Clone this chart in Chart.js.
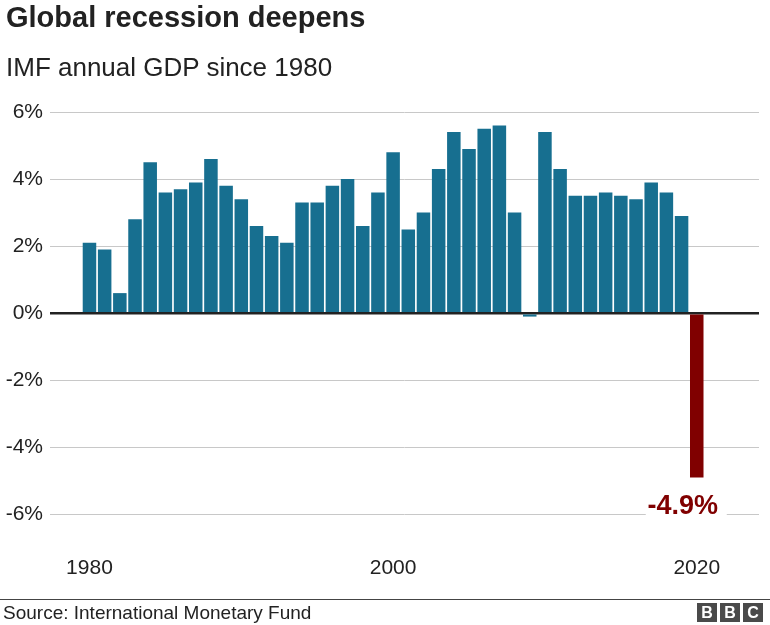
<!DOCTYPE html>
<html>
<head>
<meta charset="utf-8">
<script src="https://cdn.jsdelivr.net/npm/chart.js@4"></script>
<style>
  html, body { margin: 0; padding: 0; background: #fff; }
  body { width: 770px; height: 625px; position: relative; overflow: hidden; font-family: "Liberation Sans", Arial, Helvetica, sans-serif; color: #222; }
  #wrap { position: absolute; left: 0; top: 0; width: 770px; height: 625px; }
  .title { position: absolute; left: 6px; top: 3px; font-size: 29px; line-height: 29px; font-weight: bold; color: #222; }
  .sub { position: absolute; left: 6px; top: 54px; font-size: 26px; line-height: 26px; color: #222; }
  .rule { position: absolute; left: 0; top: 599px; width: 770px; height: 1px; background: #444; }
  .source { position: absolute; left: 3px; top: 603px; font-size: 19px; line-height: 19px; color: #222; }
  .bbc { position: absolute; left: 697px; top: 603px; display: flex; gap: 3px; }
  .bbc span { display: block; width: 20px; height: 19px; background: #4a4a4a; color: #fff; font-weight: bold; font-size: 16px; line-height: 19px; text-align: center; }
</style>
</head>
<body>
<div id="wrap"><canvas id="gdp" width="770" height="625"></canvas></div>
<div class="title">Global recession deepens</div>
<div class="sub">IMF annual GDP since 1980</div>
<div class="rule"></div>
<div class="source">Source: International Monetary Fund</div>
<div class="bbc"><span>B</span><span>B</span><span>C</span></div>
<script>
// IMF world GDP growth, % per year
const years = [1980,1981,1982,1983,1984,1985,1986,1987,1988,1989,
               1990,1991,1992,1993,1994,1995,1996,1997,1998,1999,
               2000,2001,2002,2003,2004,2005,2006,2007,2008,2009,
               2010,2011,2012,2013,2014,2015,2016,2017,2018,2019,2020];
const growth = [2.1,1.9,0.6,2.8,4.5,3.6,3.7,3.9,4.6,3.8,
                3.4,2.6,2.3,2.1,3.3,3.3,3.8,4.0,2.6,3.6,
                4.8,2.5,3.0,4.3,5.4,4.9,5.5,5.6,3.0,-0.1,
                5.4,4.3,3.5,3.5,3.6,3.5,3.4,3.9,3.6,2.9,-4.9];
const yearTicks = [1980, 2000, 2020];
const pctTicks = [-6, -4, -2, 0, 2, 4, 6];
const highlightYear = 2020;
const highlightLabel = '-4.9%';

const BLUE = '#176f90';
const RED = '#800000';

const barColors = years.map(y => y === highlightYear ? RED : BLUE);

const calloutPlugin = {
  id: 'callout',
  afterDatasetsDraw(chart) {
    const idx = years.indexOf(highlightYear);
    const bar = chart.getDatasetMeta(0).data[idx];
    if (!bar) return;
    const ctx = chart.ctx;
    const cx = bar.x - 14, cy = bar.y + 29;
    ctx.save();
    ctx.fillStyle = '#fff';
    ctx.fillRect(cx - 37, cy - 14, 81, 28);
    ctx.font = 'bold 27px "Liberation Sans", Arial, sans-serif';
    ctx.fillStyle = RED;
    ctx.textAlign = 'center';
    ctx.textBaseline = 'middle';
    ctx.fillText(highlightLabel, cx, cy);
    ctx.restore();
  }
};

new Chart(document.getElementById('gdp'), {
  type: 'bar',
  data: {
    datasets: [{
      data: years.map((y, i) => ({ x: y, y: growth[i] })),
      backgroundColor: barColors,
      borderWidth: 0,
      barPercentage: 0.89,
      categoryPercentage: 1
    }]
  },
  options: {
    responsive: false,
    animation: false,
    devicePixelRatio: 1,
    layout: { padding: { top: 112, right: 11, bottom: 38, left: 0 } },
    plugins: { legend: { display: false }, tooltip: { enabled: false } },
    scales: {
      x: {
        type: 'linear',
        min: 1977.4,
        max: 2024.1,
        offset: false,
        afterBuildTicks: s => { s.ticks = yearTicks.map(v => ({ value: v })); },
        afterFit: s => { s.height = 625 - 38 - 548; },
        grid: { display: false },
        border: { display: false },
        ticks: { color: '#222', padding: 0, font: { family: '"Liberation Sans", Arial, sans-serif', size: 21 }, callback: v => String(v) }
      },
      y: {
        min: -7,
        max: 6,
        afterBuildTicks: s => { s.ticks = pctTicks.map(v => ({ value: v })); },
        afterFit: s => { s.width = 50; },
        grid: {
          drawTicks: false,
          color: c => c.tick && c.tick.value === 0 ? '#222' : '#c8c8c8',
          lineWidth: c => c.tick && c.tick.value === 0 ? 2.5 : 1
        },
        border: { display: false },
        ticks: { color: '#222', padding: 7, font: { family: '"Liberation Sans", Arial, sans-serif', size: 21 }, callback: v => v + '%' }
      }
    }
  },
  plugins: [calloutPlugin]
});
</script>
</body>
</html>
